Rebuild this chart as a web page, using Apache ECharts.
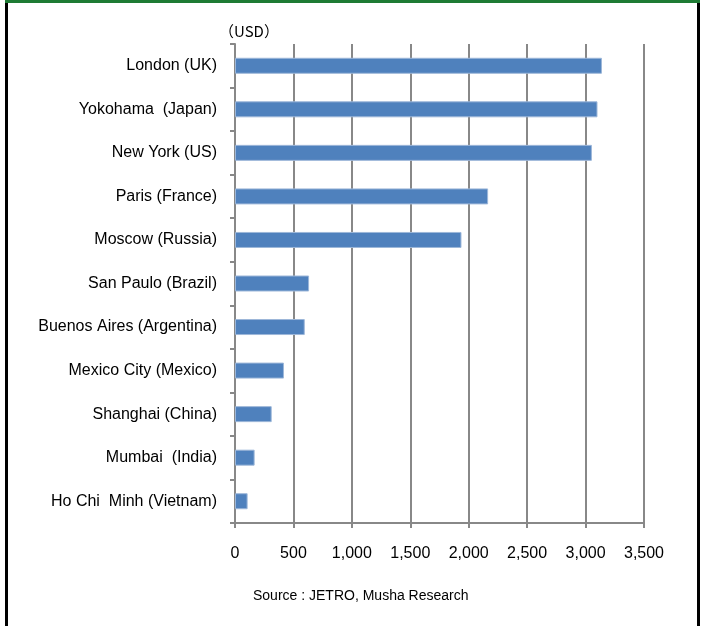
<!DOCTYPE html>
<html>
<head>
<meta charset="utf-8">
<script src="https://cdn.jsdelivr.net/npm/echarts@6/dist/echarts.min.js"></script>
<style>
  html, body { margin: 0; padding: 0; background: #fff; }
  #chart { width: 704px; height: 626px; }
</style>
</head>
<body>
<div id="chart"></div>
<script>
const cities = [
  'London (UK)',
  'Yokohama  (Japan)',
  'New York (US)',
  'Paris (France)',
  'Moscow (Russia)',
  'San Paulo (Brazil)',
  'Buenos Aires (Argentina)',
  'Mexico City (Mexico)',
  'Shanghai (China)',
  'Mumbai  (India)',
  'Ho Chi  Minh (Vietnam)',
];
const costs = [3140, 3102, 3054, 2166, 1938, 634, 597, 419, 314, 168, 108];
const tickValues = [0, 500, 1000, 1500, 2000, 2500, 3000, 3500];

const font = '"Liberation Sans", Arial, sans-serif';
const grey = '#888888';

const chart = echarts.init(document.getElementById('chart'));

const option = {
  animation: false,
  backgroundColor: '#fff',
  grid: {
    left: 235,
    right: 60,
    top: 44,
    bottom: 103,
  },
  xAxis: {
    type: 'value',
    min: tickValues[0],
    max: tickValues[tickValues.length - 1],
    interval: 500,
    axisLine: {
      show: true,
      lineStyle: { color: grey, width: 2 },
    },
    axisTick: {
      show: true,
      length: 5,
      lineStyle: { color: grey, width: 2 },
    },
    splitLine: {
      show: true,
      lineStyle: { color: grey, width: 2 },
    },
    axisLabel: {
      margin: 23,
      fontSize: 16,
      fontFamily: font,
      color: '#000',
      formatter: (v) => v.toLocaleString('en-US'),
    },
  },
  yAxis: {
    type: 'category',
    inverse: true,
    data: cities,
    axisLine: {
      show: true,
      lineStyle: { color: grey, width: 2 },
    },
    axisTick: {
      show: true,
      length: 5,
      lineStyle: { color: grey, width: 2 },
    },
    axisLabel: {
      margin: 18,
      fontSize: 16,
      fontFamily: font,
      color: '#000',
    },
  },
  series: [
    {
      type: 'bar',
      data: costs,
      barWidth: 16,
      itemStyle: {
        color: '#4f81bd',
        borderColor: '#9db7d9',
        borderWidth: 1,
      },
    },
  ],
  graphic: [
    {
      type: 'text',
      left: 219,
      top: 24,
      style: {
        text: '（USD）',
        fontSize: 15,
        fontFamily: '"Noto Sans CJK JP", sans-serif',
        fill: '#000',
      },
    },
    {
      type: 'text',
      left: 253,
      top: 589,
      style: {
        text: 'Source : JETRO, Musha Research',
        fontSize: 14,
        fontFamily: font,
        fill: '#000',
      },
    },
    {
      type: 'rect',
      shape: { x: 5, y: 0, width: 695, height: 3 },
      style: { fill: '#1e7b34' },
    },
    {
      type: 'rect',
      shape: { x: 5, y: 3, width: 3, height: 623 },
      style: { fill: '#000' },
    },
    {
      type: 'rect',
      shape: { x: 697, y: 3, width: 3, height: 623 },
      style: { fill: '#000' },
    },
  ],
};

chart.setOption(option);
</script>
</body>
</html>
